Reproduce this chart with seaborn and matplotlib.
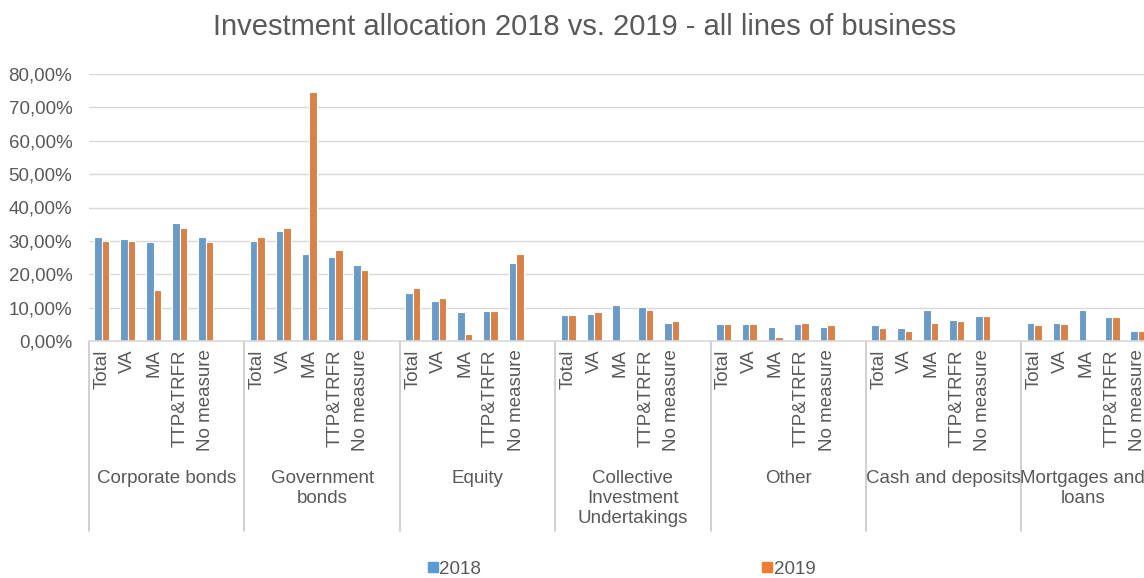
import matplotlib
matplotlib.use("Agg")
import matplotlib.pyplot as plt
from matplotlib.lines import Line2D
import matplotlib.transforms as mtransforms
import pandas as pd
import seaborn as sns

# Asset classes (outer x level) and risk-mitigating measures (inner x level)
asset_classes = [
    "Corporate bonds",
    "Government\nbonds",
    "Equity",
    "Collective\nInvestment\nUndertakings",
    "Other",
    "Cash and deposits",
    "Mortgages and\nloans",
]
measures = ["Total", "VA", "MA", "TTP&TRFR", "No measure"]
years = ["2018", "2019"]

# Share of investments, in percent (None = not reported)
alloc_2018 = [
    [31.1, 30.7, 29.6, 35.4, 31.1],
    [30.0, 33.0, 26.1, 25.3, 22.9],
    [14.5, 12.0, 8.6, 9.0, 23.4],
    [7.9, 8.2, 10.9, 10.2, 5.5],
    [5.1, 5.1, 4.2, 5.1, 4.2],
    [4.7, 3.8, 9.4, 6.3, 7.5],
    [5.5, 5.5, 9.4, 7.1, 3.1],
]
alloc_2019 = [
    [29.9, 30.0, 15.2, 33.8, 29.6],
    [31.1, 33.8, 74.6, 27.3, 21.4],
    [16.0, 12.9, 2.0, 9.0, 26.1],
    [7.9, 8.6, None, 9.4, 5.9],
    [5.1, 5.1, 1.1, 5.5, 4.7],
    [3.8, 3.1, 5.5, 5.9, 7.5],
    [4.7, 5.1, None, 7.1, 3.1],
]

BLUE = "#5B9BD5"
ORANGE = "#ED7D31"
TEXT = "#595959"
GRID = "#D9D9D9"
SLOTS = len(measures) + 1  # one empty slot closes each asset class

rows = []
for g, cls in enumerate(asset_classes):
    for m, meas in enumerate(measures):
        for yr, series in zip(years, (alloc_2018, alloc_2019)):
            v = series[g][m]
            if v is not None:
                rows.append({"pos": g * SLOTS + m, "value": v, "year": yr})
df = pd.DataFrame(rows)

sns.set_style("white")
plt.rcParams["font.family"] = ["Liberation Sans", "DejaVu Sans"]

W, H = 1144, 578
fig = plt.figure(figsize=(W / 100, H / 100), dpi=100)
ax_left, ax_bottom, ax_top = 89, 341, 74
ax = fig.add_axes([ax_left / W, 1 - ax_bottom / H, 1 - ax_left / W, (ax_bottom - ax_top) / H])

sns.barplot(data=df, x="pos", y="value", hue="year", hue_order=years,
            palette=[BLUE, ORANGE], native_scale=True, width=0.58,
            edgecolor="white", linewidth=0.8, legend=False, ax=ax)

# x range: the last asset class runs past the right edge
x_right = -0.5 + (W - ax_left) / 25.9
ax.set_xlim(-0.5, x_right)
ax.set_ylim(0, 80)
ax.set_yticks(range(0, 81, 10))
ax.set_yticklabels([f"{v:.2f}%".replace(".", ",") for v in range(0, 81, 10)],
                   fontsize=13.5, color=TEXT)
ax.tick_params(axis="y", length=0, pad=12)
ax.yaxis.grid(True, color=GRID, linewidth=1)
ax.set_axisbelow(True)
for s in ("left", "right", "top"):
    ax.spines[s].set_visible(False)
ax.spines["bottom"].set_color(GRID)
ax.spines["bottom"].set_linewidth(1.2)

ticks = [g * SLOTS + m for g in range(len(asset_classes)) for m in range(len(measures))]
ax.set_xticks(ticks)
ax.set_xticklabels(measures * len(asset_classes), rotation=90, fontsize=13.5, color=TEXT)
ax.tick_params(axis="x", length=0, pad=6)
ax.set_xlabel("")
ax.set_ylabel("")

trans = mtransforms.blended_transform_factory(ax.transData, ax.transAxes)
sep_bottom = -(531 - ax_bottom) / (ax_bottom - ax_top)
for g in range(len(asset_classes) + 1):
    xb = g * SLOTS - 0.5
    ax.add_line(Line2D([xb, xb], [0, sep_bottom], transform=trans, color="#C8C8C8",
                       linewidth=1.2, clip_on=False))
for g, cls in enumerate(asset_classes):
    # centre each class label on the visible part of its group
    lo = g * SLOTS - 0.5
    hi = min(lo + SLOTS, x_right)
    ax.annotate(cls, xy=((lo + hi) / 2, 0), xycoords=trans,
                xytext=(0, -(470 - ax_bottom)), textcoords="offset pixels",
                ha="center", va="top", fontsize=13.5, color=TEXT,
                linespacing=1.22, annotation_clip=False)

fig.suptitle("Investment allocation 2018 vs. 2019 - all lines of business",
             x=585 / W, y=1 - 27 / H, va="center", fontsize=21, color=TEXT)

handles = [Line2D([], [], marker="s", linestyle="", color=c, markersize=7.5)
           for c in (BLUE, ORANGE)]
fig.legend(handles, years, loc="center", bbox_to_anchor=(620 / W, 1 - 569 / H),
           ncol=2, frameon=False, columnspacing=14.8, handletextpad=-0.1,
           handlelength=0.9, fontsize=13.5, labelcolor=TEXT)

fig.savefig("out.png", dpi=100)
